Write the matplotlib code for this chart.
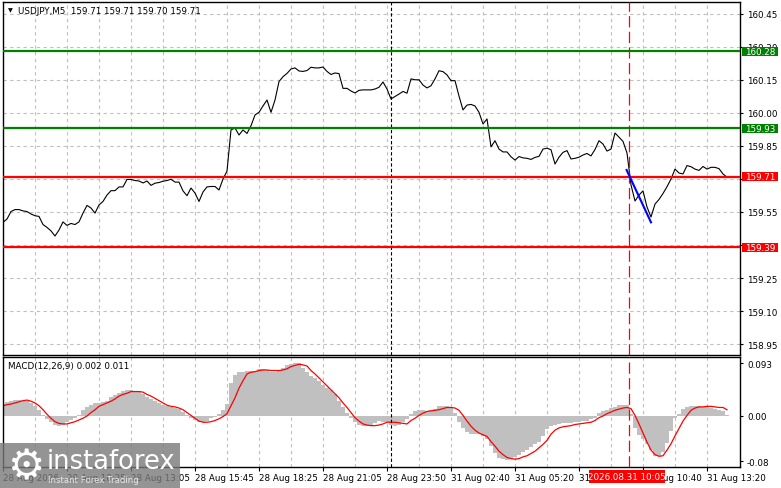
import matplotlib.pyplot as plt
import matplotlib.transforms as mtransforms
from matplotlib.patches import Rectangle
import numpy as np

plt.rcParams['font.family'] = ['DejaVu Sans']
plt.rcParams['font.size'] = 6.3

# close price, one value every second M5 bar
bars = np.arange(0, 364, 2)
close = [
    159.503, 159.518, 159.552, 159.561, 159.561, 159.555, 159.552, 159.541, 159.533, 159.530,
    159.493, 159.480, 159.464, 159.441, 159.468, 159.505, 159.489, 159.498, 159.493, 159.505,
    159.545, 159.580, 159.568, 159.545, 159.582, 159.598, 159.627, 159.647, 159.647, 159.664,
    159.664, 159.698, 159.698, 159.693, 159.691, 159.682, 159.691, 159.671, 159.681, 159.684,
    159.690, 159.693, 159.699, 159.686, 159.686, 159.646, 159.624, 159.659, 159.636, 159.598,
    159.641, 159.664, 159.666, 159.666, 159.650, 159.700, 159.736, 159.923, 159.932, 159.900,
    159.923, 159.907, 159.942, 159.991, 160.003, 160.032, 160.059, 160.003, 160.059, 160.143,
    160.165, 160.180, 160.200, 160.205, 160.191, 160.189, 160.193, 160.208, 160.205, 160.205,
    160.209, 160.189, 160.175, 160.182, 160.179, 160.112, 160.112, 160.100, 160.091, 160.103,
    160.105, 160.105, 160.105, 160.109, 160.117, 160.141, 160.109, 160.064, 160.075, 160.086,
    160.098, 160.090, 160.155, 160.151, 160.151, 160.127, 160.114, 160.124, 160.155, 160.192,
    160.188, 160.173, 160.147, 160.147, 160.077, 160.014, 160.036, 160.039, 160.032, 160.003,
    159.950, 159.973, 159.846, 159.874, 159.836, 159.823, 159.823, 159.801, 159.786, 159.802,
    159.796, 159.794, 159.789, 159.798, 159.803, 159.836, 159.840, 159.833, 159.768, 159.799,
    159.821, 159.829, 159.791, 159.794, 159.799, 159.809, 159.816, 159.805, 159.834, 159.874,
    159.859, 159.827, 159.836, 159.909, 159.890, 159.871, 159.818, 159.673, 159.600, 159.627,
    159.646, 159.573, 159.527, 159.586, 159.607, 159.634, 159.665, 159.700, 159.745, 159.727,
    159.723, 159.761, 159.756, 159.745, 159.739, 159.757, 159.745, 159.753, 159.753, 159.747,
    159.723, 159.708,
]
macd_main = [
    0.021, 0.025, 0.027, 0.028, 0.028, 0.027, 0.026, 0.023, 0.018, 0.011,
    0.002, -0.005, -0.011, -0.015, -0.018, -0.016, -0.011, -0.007, -0.004, 0.002,
    0.011, 0.016, 0.019, 0.022, 0.023, 0.025, 0.027, 0.033, 0.037, 0.041,
    0.044, 0.046, 0.045, 0.044, 0.042, 0.039, 0.034, 0.030, 0.026, 0.022,
    0.019, 0.018, 0.016, 0.014, 0.012, 0.007, 0.002, -0.003, -0.007, -0.011,
    -0.011, -0.008, -0.004, -0.001, 0.003, 0.011, 0.021, 0.058, 0.072, 0.077,
    0.077, 0.079, 0.079, 0.080, 0.082, 0.083, 0.081, 0.078, 0.077, 0.079,
    0.084, 0.089, 0.092, 0.094, 0.093, 0.084, 0.077, 0.071, 0.066, 0.061,
    0.055, 0.050, 0.045, 0.038, 0.026, 0.016, 0.006, -0.004, -0.011, -0.016,
    -0.017, -0.017, -0.015, -0.012, -0.009, -0.010, -0.011, -0.015, -0.018, -0.015,
    -0.011, -0.005, 0.003, 0.009, 0.011, 0.010, 0.008, 0.010, 0.013, 0.017,
    0.018, 0.018, 0.015, 0.006, -0.011, -0.021, -0.029, -0.031, -0.032, -0.032,
    -0.036, -0.041, -0.053, -0.065, -0.074, -0.076, -0.077, -0.076, -0.073, -0.069,
    -0.064, -0.060, -0.055, -0.050, -0.045, -0.035, -0.023, -0.018, -0.015, -0.014,
    -0.013, -0.012, -0.012, -0.011, -0.010, -0.009, -0.008, -0.006, -0.003, 0.006,
    0.009, 0.011, 0.014, 0.016, 0.019, 0.019, 0.019, 0.004, -0.022, -0.033,
    -0.040, -0.049, -0.060, -0.071, -0.070, -0.064, -0.047, -0.026, -0.004, 0.004,
    0.012, 0.015, 0.018, 0.018, 0.017, 0.015, 0.015, 0.014, 0.013, 0.011,
    0.009, 0.002,
]
macd_signal = [
    0.018, 0.020, 0.021, 0.023, 0.025, 0.027, 0.028, 0.026, 0.023, 0.018,
    0.011, 0.003, -0.004, -0.010, -0.013, -0.014, -0.014, -0.012, -0.010, -0.007,
    -0.004, 0.000, 0.006, 0.011, 0.017, 0.020, 0.023, 0.026, 0.030, 0.035,
    0.038, 0.040, 0.043, 0.043, 0.043, 0.042, 0.038, 0.035, 0.031, 0.027,
    0.023, 0.019, 0.017, 0.016, 0.014, 0.011, 0.006, 0.001, -0.004, -0.009,
    -0.011, -0.011, -0.010, -0.008, -0.005, -0.001, 0.004, 0.018, 0.032, 0.049,
    0.062, 0.074, 0.077, 0.078, 0.080, 0.081, 0.081, 0.080, 0.080, 0.080,
    0.081, 0.083, 0.087, 0.089, 0.091, 0.090, 0.088, 0.080, 0.074, 0.067,
    0.060, 0.053, 0.046, 0.039, 0.032, 0.023, 0.015, 0.006, -0.003, -0.009,
    -0.014, -0.016, -0.017, -0.017, -0.016, -0.014, -0.011, -0.011, -0.011, -0.012,
    -0.013, -0.014, -0.008, -0.004, 0.001, 0.005, 0.008, 0.009, 0.010, 0.011,
    0.013, 0.015, 0.015, 0.014, 0.010, 0.001, -0.009, -0.018, -0.025, -0.030,
    -0.033, -0.036, -0.045, -0.053, -0.062, -0.068, -0.073, -0.075, -0.076, -0.075,
    -0.072, -0.070, -0.066, -0.062, -0.056, -0.050, -0.043, -0.032, -0.025, -0.021,
    -0.019, -0.018, -0.017, -0.015, -0.014, -0.013, -0.012, -0.011, -0.008, -0.003,
    0.000, 0.004, 0.007, 0.010, 0.012, 0.014, 0.015, 0.013, 0.001, -0.014,
    -0.030, -0.046, -0.060, -0.068, -0.071, -0.070, -0.060, -0.049, -0.035, -0.022,
    -0.009, 0.001, 0.010, 0.014, 0.016, 0.016, 0.017, 0.017, 0.016, 0.015,
    0.015, 0.011,
]

green_levels = [160.28, 159.93]
red_levels = [159.71, 159.39]
price_ticks = [158.95, 159.10, 159.25, 159.40, 159.55, 159.70, 159.85, 160.00, 160.15, 160.30, 160.45]
hidden_ticks = [159.40, 159.70]  # fully covered by the level boxes
macd_ticks = [0.093, 0.0, -0.08]
macd_tick_labels = ["0.093", "0.00", "-0.08"]
time_bars = [0, 32, 64, 96, 128, 160, 192, 224, 256, 288, 320, 352]
time_labels = ["28 Aug 2026", "28 Aug 10:25", "28 Aug 13:05", "28 Aug 15:45", "28 Aug 18:25",
               "28 Aug 21:05", "28 Aug 23:50", "31 Aug 02:40", "31 Aug 05:20", "31 Aug 08:00",
               "31 Aug 10:40", "31 Aug 13:20"]
day_sep_bar = 194
signal_bar = 313
signal_label = "2026.08.31 10:05"
trend_bars = [311.8, 324]
trend_prices = [159.741, 159.503]
title = "USDJPY,M5  159.71 159.71 159.70 159.71"
macd_title = "MACD(12,26,9) 0.002 0.011"

W, H = 781, 489
fig = plt.figure(figsize=(W / 100, H / 100), dpi=100, facecolor='white')
ax = fig.add_axes([3 / W, 1 - 355.5 / H, 737 / W, 352.5 / H])
ax2 = fig.add_axes([3 / W, 1 - 468 / H, 737 / W, 110.5 / H])

grid_kw = dict(color='#c0c0c0', linestyle=(0, (3, 3)), linewidth=0.8)
for a in (ax, ax2):
    a.set_xlim(0, 368.5)
    for s in a.spines.values():
        s.set_color('black')
        s.set_linewidth(1)
    for gx in range(16, 368, 16):
        a.axvline(gx, zorder=0, **grid_kw)
    a.axvline(day_sep_bar, color='black', linestyle=(0, (3, 2)), linewidth=0.8, zorder=3)
    a.axvline(signal_bar, color='#ff0000', linestyle=(0, (9, 3.5)), linewidth=0.9, zorder=3)

# price panel
ax.set_ylim(158.9023, 160.5045)
ax.set_yticks(price_ticks)
ax.set_yticklabels(["" if p in hidden_ticks else f"{p:.2f}" for p in price_ticks])
ax.yaxis.tick_right()
ax.tick_params(axis='y', length=2, pad=3, labelsize=6.3)
ax.set_xticks([])
for p in price_ticks:
    ax.axhline(p, zorder=0, **grid_kw)
ax.plot(bars, close, color='black', linewidth=0.8, zorder=2)
for lv in green_levels:
    ax.axhline(lv, color='#008000', linewidth=1.6, zorder=4)
for lv in red_levels:
    ax.axhline(lv, color='#ff0000', linewidth=1.6, zorder=4)
ax.plot(trend_bars, trend_prices, color='#0000ff', linewidth=1.5, zorder=5)

blend = mtransforms.blended_transform_factory(ax.transAxes, ax.transData)
for lv, col in [(v, '#008000') for v in green_levels] + [(v, '#ff0000') for v in red_levels]:
    ax.add_patch(Rectangle((739 / 737, lv - 0.0205), 36 / 737, 0.041, transform=blend,
                           facecolor=col, edgecolor='none', clip_on=False, zorder=10))
    ax.text(742.5 / 737, lv, f"{lv:.2f}", transform=blend, color='white', fontsize=6.3,
            ha='left', va='center', zorder=11, clip_on=False)

ax.text(5 / 737, 1 - 8 / 352.5, "\u25bc", transform=ax.transAxes, fontsize=4.5,
        ha='left', va='center', color='black')
ax.text(15 / 737, 1 - 8 / 352.5, title, transform=ax.transAxes, fontsize=6.3,
        ha='left', va='center', color='black')

# MACD panel
ax2.set_ylim(-0.0898, 0.1047)
ax2.bar(bars, macd_main, width=2, color='#c0c0c0', linewidth=0, zorder=1)
ax2.plot(bars, macd_signal, color='#ff0000', linewidth=0.9, zorder=2)
ax2.set_yticks(macd_ticks)
ax2.set_yticklabels(macd_tick_labels)
ax2.yaxis.tick_right()
ax2.tick_params(axis='y', length=2, pad=3, labelsize=6.3)
ax2.set_xticks(time_bars)
ax2.set_xticklabels(time_labels, ha='left')
ax2.tick_params(axis='x', length=3, pad=1.5, labelsize=6.3)
ax2.text(5 / 737, 1 - 9 / 110.5, macd_title, transform=ax2.transAxes, fontsize=6.3,
         ha='left', va='center', color='black')

blend2 = mtransforms.blended_transform_factory(ax2.transData, ax2.transAxes)
ax2.add_patch(Rectangle((signal_bar - 20, -3 / 110.5 - 13 / 110.5), 38, 13 / 110.5,
                        transform=blend2, facecolor='#ff0000', edgecolor='none',
                        clip_on=False, zorder=10))
ax2.text(signal_bar - 1, -9.5 / 110.5, signal_label, transform=blend2, color='white',
         fontsize=6.3, ha='center', va='center', zorder=11, clip_on=False)

# watermark
fig.add_artist(Rectangle((0, 0), 180 / W, 45 / H, transform=fig.transFigure,
                         facecolor='#7a7a7a', edgecolor='none', alpha=0.8, zorder=20))
fig.text(26 / W, 22 / H, "\u2699", color='white', fontsize=30, ha='center', va='center',
         zorder=21)
fig.text(47 / W, 27 / H, "instaforex", color='white', fontsize=18.5, ha='left',
         va='center', zorder=21)
fig.text(48 / W, 8 / H, "Instant Forex Trading", color='#e8e8e8', fontsize=6.2,
         ha='left', va='center', zorder=21)

fig.savefig("out.png", dpi=100, facecolor='white')
